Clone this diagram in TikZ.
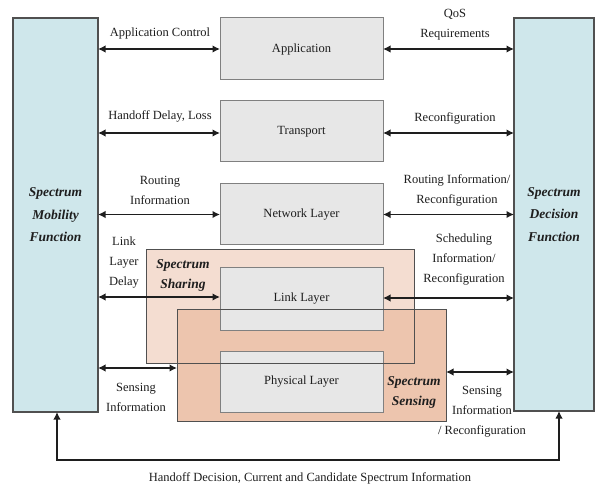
\documentclass[tikz,border=0pt]{standalone}
\usepackage{fontspec}
\setmainfont{Liberation Serif}
\usetikzlibrary{arrows.meta}
\definecolor{sideblue}{RGB}{207,231,235}
\definecolor{layerfill}{RGB}{231,231,231}
\definecolor{layeredge}{RGB}{128,128,128}
\definecolor{edgegray}{RGB}{80,80,80}
\definecolor{sharefill}{RGB}{244,221,209}
\definecolor{sensefill}{RGB}{237,197,174}
\definecolor{inkc}{RGB}{30,30,30}
\begin{document}
\begin{tikzpicture}[x=1pt,y=-1pt,
  sidebox/.style={draw=edgegray,line width=1.2pt,fill=sideblue,inner sep=0pt,outer sep=0pt,
    align=center,text=inkc,font=\fontsize{13.5}{22.5}\selectfont\bfseries\itshape},
  layerbox/.style={draw=layeredge,line width=1pt,fill=layerfill,inner sep=0pt,outer sep=0pt,
    minimum width=163pt,text=inkc,font=\fontsize{12.5}{14}\selectfont},
  regionbox/.style={inner sep=0pt,outer sep=0pt},
  regionedge/.style={draw=edgegray,line width=1pt},
  lbl/.style={align=center,text=inkc,inner sep=0pt,font=\fontsize{12.5}{20}\selectfont},
  blbl/.style={align=center,text=inkc,inner sep=0pt,font=\fontsize{13.5}{20}\selectfont\bfseries\itshape},
  biarrow/.style={draw=inkc,line width=1.6pt,{Latex[length=7.5pt,width=7.5pt]}-{Latex[length=7.5pt,width=7.5pt]}}
]
\useasboundingbox (0,0) rectangle (597,486);

% side boxes
\node[sidebox,minimum width=85pt,minimum height=394pt] (mob) at (55.5,215) {Spectrum\\Mobility\\Function};
\node[sidebox,minimum width=80pt,minimum height=393pt] (dec) at (554,214.5) {Spectrum\\Decision\\Function};

% region fills
\node[regionbox,fill=sharefill,minimum width=268pt,minimum height=113pt] (share) at (280,306.5) {};
\node[regionbox,fill=sensefill,minimum width=269pt,minimum height=111pt] (sense) at (311.5,365.5) {};

% layers
\node[layerbox,minimum height=62pt] (app) at (301.5,49) {Application};
\node[layerbox,minimum height=61pt] (trn) at (301.5,131.5) {Transport};
\node[layerbox,minimum height=61pt] (net) at (301.5,214.5) {Network Layer};
\node[layerbox,minimum height=62pt] (lnk) at (301.5,299) {Link Layer};
\node[layerbox,minimum height=61pt] (phy) at (301.5,381.5) {Physical Layer};

% region borders on top
\draw[regionedge] (share.south west) rectangle (share.north east);
\draw[regionedge] (sense.south west) rectangle (sense.north east);

\node[blbl] at (183,275) {Spectrum\\Sharing};
\node[blbl] at (414,392.5) {Spectrum\\Sensing};

% left arrows and labels
\draw[biarrow] (mob.east |- app.west) -- (app.west);
\node[lbl] at (160,33) {Application Control};
\draw[biarrow] (mob.east |- 0,133) -- (trn.west |- 0,133);
\node[lbl] at (160,116) {Handoff Delay, Loss};
\draw[biarrow] (mob.east |- net.west) -- (net.west);
\node[lbl] at (160,190) {Routing\\Information};
\draw[biarrow] (mob.east |- 0,297) -- (lnk.west |- 0,297);
\node[lbl] at (124,263) {Link\\Layer\\Delay};
\draw[biarrow] (mob.east |- 0,368) -- (sense.west |- 0,368);
\node[lbl] at (136,397) {Sensing\\Information};

% right arrows and labels
\draw[biarrow] (app.east) -- (dec.west |- app.east);
\node[lbl] at (455,25) {QoS\\Requirements};
\draw[biarrow] (trn.east |- 0,133) -- (dec.west |- 0,133);
\node[lbl] at (455,118) {Reconfiguration};
\draw[biarrow] (net.east) -- (dec.west |- net.east);
\node[lbl] at (457,190) {Routing Information/\\Reconfiguration};
\draw[biarrow] (lnk.east |- 0,298) -- (dec.west |- 0,298);
\node[lbl] at (464,260) {Scheduling\\Information/\\Reconfiguration};
\draw[biarrow] (sense.east |- 0,372) -- (dec.west |- 0,372);
\node[lbl] at (482,412) {Sensing\\Information\\/ Reconfiguration};

% bottom loop
\coordinate (bl) at (57,460);
\coordinate (br) at (559,460);
\draw[biarrow] (bl |- mob.south) -- (bl) -- (br) -- (br |- dec.south);
\node[lbl] at (310,478) {Handoff Decision, Current and Candidate Spectrum Information};
\end{tikzpicture}
\end{document}
